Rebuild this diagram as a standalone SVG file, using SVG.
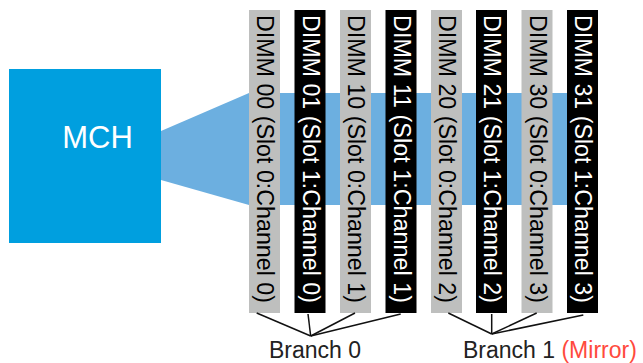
<svg xmlns="http://www.w3.org/2000/svg" width="643" height="363" viewBox="0 0 643 363">
<style>
  text { font-family: "Liberation Sans", Arial, sans-serif; }
  .dimm-g rect { fill: #BEBFBE; }
  .dimm-b rect { fill: #000000; }
  .dimm-g text { fill: #000000; font-size: 23px; }
  .dimm-b text { fill: #FFFFFF; font-size: 23px; }
  .conn line { stroke: #111111; stroke-width: 1.5; }
  .label { font-size: 23px; fill: #222222; }
</style>
<rect width="643" height="363" fill="#FFFFFF"/>
<g id="bus">
  <polygon points="161,131 249,93 567,93 567,205 249,205 161,180" fill="#6CAFE0"/>
</g>
<g id="mch">
  <rect x="9" y="69" width="152" height="174" fill="#009FDF"/>
  <text x="97.5" y="148" font-size="31" fill="#FFFFFF" text-anchor="middle">MCH</text>
</g>
<g id="dimm00" class="dimm-g">
  <rect x="249" y="10" width="31" height="303"/>
  <text transform="translate(257,15) rotate(90)" textLength="288" lengthAdjust="spacingAndGlyphs">DIMM 00 (Slot 0:Channel 0)</text>
</g>
<g id="dimm01" class="dimm-b">
  <rect x="294.5" y="10" width="31" height="303"/>
  <text transform="translate(302.5,15) rotate(90)" textLength="288" lengthAdjust="spacingAndGlyphs">DIMM 01 (Slot 1:Channel 0)</text>
</g>
<g id="dimm10" class="dimm-g">
  <rect x="340" y="10" width="31" height="303"/>
  <text transform="translate(348,15) rotate(90)" textLength="288" lengthAdjust="spacingAndGlyphs">DIMM 10 (Slot 0:Channel 1)</text>
</g>
<g id="dimm11" class="dimm-b">
  <rect x="385.5" y="10" width="31" height="303"/>
  <text transform="translate(393.5,15) rotate(90)" textLength="288" lengthAdjust="spacingAndGlyphs">DIMM 11 (Slot 1:Channel 1)</text>
</g>
<g id="dimm20" class="dimm-g">
  <rect x="431" y="10" width="31" height="303"/>
  <text transform="translate(439,15) rotate(90)" textLength="288" lengthAdjust="spacingAndGlyphs">DIMM 20 (Slot 0:Channel 2)</text>
</g>
<g id="dimm21" class="dimm-b">
  <rect x="476" y="10" width="31" height="303"/>
  <text transform="translate(484,15) rotate(90)" textLength="288" lengthAdjust="spacingAndGlyphs">DIMM 21 (Slot 1:Channel 2)</text>
</g>
<g id="dimm30" class="dimm-g">
  <rect x="521.5" y="10" width="31" height="303"/>
  <text transform="translate(529.5,15) rotate(90)" textLength="288" lengthAdjust="spacingAndGlyphs">DIMM 30 (Slot 0:Channel 3)</text>
</g>
<g id="dimm31" class="dimm-b">
  <rect x="567" y="10" width="31" height="303"/>
  <text transform="translate(575,15) rotate(90)" textLength="288" lengthAdjust="spacingAndGlyphs">DIMM 31 (Slot 1:Channel 3)</text>
</g>
<g id="connectors" class="conn">
  <line x1="256.7" y1="313" x2="310.7" y2="336"/>
  <line x1="308" y1="314" x2="310.7" y2="336"/>
  <line x1="355" y1="313" x2="310.7" y2="336"/>
  <line x1="400.7" y1="314" x2="310.7" y2="336"/>
  <line x1="448.3" y1="313" x2="491.7" y2="334"/>
  <line x1="491.7" y1="314" x2="491.7" y2="334"/>
  <line x1="536.7" y1="313" x2="491.7" y2="334"/>
  <line x1="583.3" y1="315" x2="491.7" y2="334"/>
</g>
<g id="branch0">
  <text class="label" x="269" y="358">Branch 0</text>
</g>
<g id="branch1">
  <text class="label" x="463" y="358">Branch 1 <tspan fill="#FF4A3D">(Mirror)</tspan></text>
</g>
</svg>
